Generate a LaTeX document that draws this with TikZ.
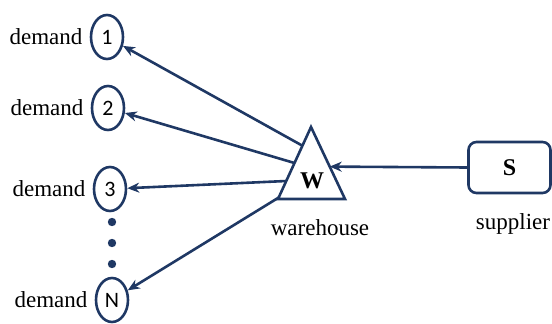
\documentclass[tikz,border=0pt]{standalone}
\usepackage{fontspec}
\setmainfont{Liberation Serif}
\newfontfamily\digitfont{Carlito}
\usetikzlibrary{arrows.meta, positioning, calc}
\usetikzlibrary{shapes.geometric}
\definecolor{navy}{RGB}{31,56,100}

\begin{document}
\begin{tikzpicture}[x=1pt, y=-1pt, line width=2.6pt, draw=navy,
    dem/.style={draw, ellipse, minimum width=32pt, minimum height=44pt, inner sep=0pt,
                font=\digitfont\fontsize{22}{24}\selectfont},
    lab/.style={inner sep=0pt, font=\rmfamily\fontsize{23}{26}\selectfont},
    arr/.style={-{Stealth[length=12pt, width=10pt]}, navy}]
  \useasboundingbox (0,0) rectangle (552,324);
  % demand points
  \node[dem] (d1) at (107,37) {1};
  \node[dem] (d2) at (108,108) {2};
  \node[dem] (d3) at (110,189) {3};
  \node[dem] (dN) at (112,300) {N};
  \node[lab, left=6pt of d1] (l1) {demand};
  \node[lab, left=6pt of d2] (l2) {demand};
  \node[lab, left=6pt of d3] (l3) {demand};
  \node[lab, left=6pt of dN] (lN) {demand};
  \foreach \y in {222,243,264}
    \fill[navy] (112,\y) circle (4.2pt);
  % warehouse
  \coordinate (wtop) at (311,127);
  \coordinate (wleft) at (278,199);
  \coordinate (wright) at (345,199);
  \draw[line join=miter] (wtop) -- (wleft) -- (wright) -- cycle;
  \node[font=\rmfamily\bfseries\fontsize{24}{26}\selectfont] (w) at (312,181) {W};
  \node[lab] (wl) at (320,228) {warehouse};
  % supplier
  \node[draw, rounded corners=8pt, minimum width=82pt, minimum height=51pt,
        font=\rmfamily\bfseries\fontsize{24}{26}\selectfont] (s) at (509.5,167.5) {S};
  \node[lab] (sl) at (513,224) {supplier};
  \draw[arr] (s.west) -- ($(wtop)!0.55!(wright)$);
  \foreach \d/\f in {d1/0.26, d2/0.5, d3/0.75, dN/0.98}
    \draw[arr] ($(wtop)!\f!(wleft)$) -- (\d);
\end{tikzpicture}
\end{document}
